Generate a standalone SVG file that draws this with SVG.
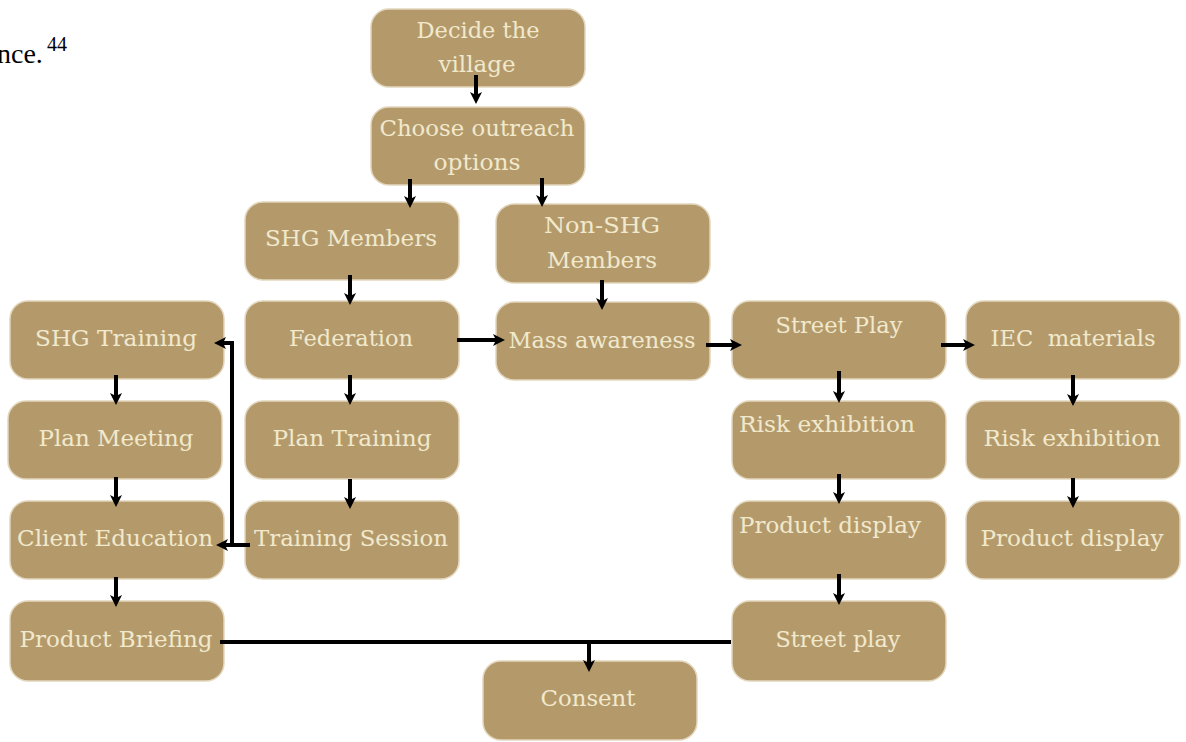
<svg xmlns="http://www.w3.org/2000/svg" width="1186" height="742" viewBox="0 0 1186 742">
<style>
.b{fill:#b49a6b;stroke:#e2d6bd;stroke-width:1.5}
.t{font-family:"DejaVu Serif","Liberation Serif",serif;font-size:23px;fill:#f1e9cd;text-anchor:middle}
.l{text-anchor:start}
.c{fill:none;stroke:#000;stroke-width:4}
.body{font-family:"Liberation Serif",serif;fill:#000}
</style>
<defs>
<marker id="ah" viewBox="0 0 12 12" refX="4" refY="6" markerWidth="12" markerHeight="12" markerUnits="userSpaceOnUse" orient="auto">
<path d="M0,0 L12,6 L0,12 L3,6 z" fill="#000"/>
</marker>
</defs>
<rect width="1186" height="742" fill="#fff"/>
<text class="body" x="-3" y="63" font-size="28">nce.</text>
<text class="body" x="47" y="51" font-size="20">44</text>

<g id="n-decide"><rect class="b" x="371" y="9" width="214" height="78" rx="18"/><text class="t" x="478" y="38" textLength="123" lengthAdjust="spacingAndGlyphs">Decide the</text><text class="t" x="477" y="72" textLength="77" lengthAdjust="spacingAndGlyphs">village</text></g>
<g id="n-choose"><rect class="b" x="371" y="107" width="214" height="78" rx="18"/><text class="t" x="477" y="136" textLength="195" lengthAdjust="spacingAndGlyphs">Choose outreach</text><text class="t" x="477" y="170" textLength="87" lengthAdjust="spacingAndGlyphs">options</text></g>
<g id="n-shg"><rect class="b" x="245" y="202" width="214" height="78" rx="18"/><text class="t" x="351" y="246" textLength="172" lengthAdjust="spacingAndGlyphs">SHG Members</text></g>
<g id="n-nonshg"><rect class="b" x="496" y="204" width="214" height="79" rx="18"/><text class="t" x="602" y="233" textLength="116" lengthAdjust="spacingAndGlyphs">Non-SHG</text><text class="t" x="602" y="268" textLength="110" lengthAdjust="spacingAndGlyphs">Members</text></g>
<g id="n-shgtraining"><rect class="b" x="10" y="301" width="214" height="78" rx="18"/><text class="t" x="116" y="346" textLength="162" lengthAdjust="spacingAndGlyphs">SHG Training</text></g>
<g id="n-federation"><rect class="b" x="245" y="301" width="214" height="78" rx="18"/><text class="t" x="351" y="346" textLength="124" lengthAdjust="spacingAndGlyphs">Federation</text></g>
<g id="n-mass"><rect class="b" x="496" y="302" width="214" height="78" rx="18"/><text class="t" x="602" y="348" textLength="187" lengthAdjust="spacingAndGlyphs">Mass awareness</text></g>
<g id="n-streetplay"><rect class="b" x="732" y="301" width="214" height="78" rx="18"/><text class="t" x="839" y="333" textLength="127" lengthAdjust="spacingAndGlyphs">Street Play</text></g>
<g id="n-iec"><rect class="b" x="966" y="301" width="214" height="78" rx="18"/><text class="t" x="1073" y="346" textLength="165" lengthAdjust="spacingAndGlyphs" xml:space="preserve">IEC  materials</text></g>
<g id="n-planmeeting"><rect class="b" x="8" y="401" width="214" height="78" rx="18"/><text class="t" x="116" y="446" textLength="155" lengthAdjust="spacingAndGlyphs">Plan Meeting</text></g>
<g id="n-plantraining"><rect class="b" x="245" y="401" width="214" height="78" rx="18"/><text class="t" x="352" y="446" textLength="159" lengthAdjust="spacingAndGlyphs">Plan Training</text></g>
<g id="n-risk1"><rect class="b" x="732" y="401" width="214" height="78" rx="18"/><text class="t l" x="739" y="432" textLength="176" lengthAdjust="spacingAndGlyphs">Risk exhibition</text></g>
<g id="n-risk2"><rect class="b" x="966" y="401" width="214" height="78" rx="18"/><text class="t" x="1072" y="446" textLength="177" lengthAdjust="spacingAndGlyphs">Risk exhibition</text></g>
<g id="n-client"><rect class="b" x="10" y="501" width="214" height="78" rx="18"/><text class="t" x="115" y="546" textLength="196" lengthAdjust="spacingAndGlyphs">Client Education</text></g>
<g id="n-session"><rect class="b" x="245" y="501" width="214" height="78" rx="18"/><text class="t" x="351" y="546" textLength="194" lengthAdjust="spacingAndGlyphs">Training Session</text></g>
<g id="n-product1"><rect class="b" x="732" y="501" width="214" height="78" rx="18"/><text class="t l" x="739" y="533" textLength="182" lengthAdjust="spacingAndGlyphs">Product display</text></g>
<g id="n-product2"><rect class="b" x="966" y="501" width="214" height="78" rx="18"/><text class="t" x="1072" y="546" textLength="183" lengthAdjust="spacingAndGlyphs">Product display</text></g>
<g id="n-briefing"><rect class="b" x="10" y="601" width="214" height="80" rx="18"/><text class="t" x="116" y="647" textLength="193" lengthAdjust="spacingAndGlyphs">Product Briefing</text></g>
<g id="n-streetplay2"><rect class="b" x="732" y="601" width="214" height="80" rx="18"/><text class="t" x="838" y="647" textLength="125" lengthAdjust="spacingAndGlyphs">Street play</text></g>
<g id="n-consent"><rect class="b" x="483" y="661" width="214" height="79" rx="18"/><text class="t" x="588" y="706" textLength="95" lengthAdjust="spacingAndGlyphs">Consent</text></g>

<g id="connectors">
<path class="c" marker-end="url(#ah)" d="M476,75 V96"/>
<path class="c" marker-end="url(#ah)" d="M410,179 V200"/>
<path class="c" marker-end="url(#ah)" d="M542,178 V199"/>
<path class="c" marker-end="url(#ah)" d="M350,275 V297"/>
<path class="c" marker-end="url(#ah)" d="M602,280 V302"/>
<path class="c" marker-end="url(#ah)" d="M457,340 H497"/>
<path class="c" marker-end="url(#ah)" d="M706,345 H734"/>
<path class="c" marker-end="url(#ah)" d="M941,345 H967"/>
<path class="c" marker-end="url(#ah)" d="M350,375 V397"/>
<path class="c" marker-end="url(#ah)" d="M350,479 V501"/>
<path class="c" marker-end="url(#ah)" d="M250,545 H232 V343 H222"/>
<path class="c" marker-end="url(#ah)" d="M232,545 H224"/>
<path class="c" marker-end="url(#ah)" d="M116,375 V397"/>
<path class="c" marker-end="url(#ah)" d="M116,477 V499"/>
<path class="c" marker-end="url(#ah)" d="M116,577 V599"/>
<path class="c" marker-end="url(#ah)" d="M839,371 V395"/>
<path class="c" marker-end="url(#ah)" d="M839,474 V496"/>
<path class="c" marker-end="url(#ah)" d="M839,574 V597"/>
<path class="c" marker-end="url(#ah)" d="M1073,375 V398"/>
<path class="c" marker-end="url(#ah)" d="M1073,478 V500"/>
<path class="c" stroke-width="6" d="M220,642 H731"/>
<path class="c" marker-end="url(#ah)" d="M589,642 V664"/>
</g>
</svg>
